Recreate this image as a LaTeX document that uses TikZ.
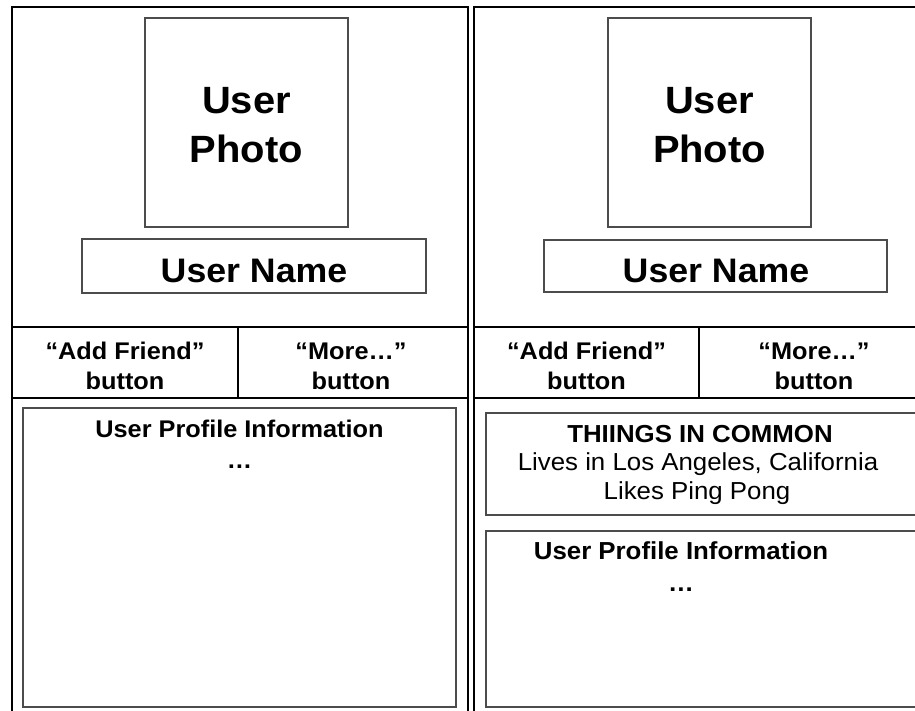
\documentclass[tikz,border=0pt]{standalone}
\usepackage{fontspec}
\setmainfont{Liberation Sans}[FakeStretch=1.05]
\tikzset{
  panelline/.style={draw=black, line width=1.3pt},
  innerbox/.style={draw=black!70, line width=1.6pt},
  txtbase/.style={anchor=base, inner sep=0pt},
  bigtxt/.style={txtbase, font=\bfseries\fontsize{38}{42}\selectfont},
  nametxt/.style={txtbase, font=\bfseries\fontsize{34}{38}\selectfont},
  btntxt/.style={txtbase, font=\bfseries\fontsize{24.1}{27}\selectfont},
  headtxt/.style={txtbase, font=\bfseries\fontsize{24.6}{27}\selectfont},
  plaintxt/.style={txtbase, font=\fontsize{24.6}{27}\selectfont}}
\begin{document}
\begin{tikzpicture}[x=1pt,y=-1pt]
\useasboundingbox (0,0) rectangle (915,711);
\clip (0,0) rectangle (915,711);
\fill[white] (0,0) rectangle (915,711);

% ---------- left panel ----------
\draw[panelline] (12,730) -- (12,7) -- (468,7) -- (468,730);
\draw[panelline] (12,327) -- (468,327);
\draw[panelline] (12,398) -- (468,398);
\draw[panelline] (238,327) -- (238,398);
\draw[innerbox] (145,18) rectangle (348,227);
\draw[innerbox] (82,239) rectangle (426,293);
\draw[innerbox] (23,408) rectangle (456,707);

\node[bigtxt] (lu) at (246.5,114) {User};
\node[bigtxt] (lp) at (246.5,163) {Photo};
\node[nametxt] (ln) at (254,283) {User Name};
\node[btntxt] (la1) at (125,359) {“Add Friend”};
\node[btntxt] (la2) at (125,389) {button};
\node[btntxt] (lm1) at (351,359) {“More…”};
\node[btntxt] (lm2) at (351,389) {button};
\node[btntxt] (li1) at (239.5,437.5) {User Profile Information};
\node[btntxt] (li2) at (239.5,468) {…};

% ---------- right panel ----------
\draw[panelline] (474,730) -- (474,7) -- (930,7);
\draw[panelline] (474,327) -- (930,327);
\draw[panelline] (474,398) -- (930,398);
\draw[panelline] (699,327) -- (699,398);
\draw[innerbox] (608,18) rectangle (811,227);
\draw[innerbox] (544,240) rectangle (887,292);
\draw[innerbox] (486,413) rectangle (930,515);
\draw[innerbox] (486,531) rectangle (930,707);

\node[bigtxt] (ru) at (709.5,114) {User};
\node[bigtxt] (rp) at (709.5,163) {Photo};
\node[nametxt] (rn) at (716,283) {User Name};
\node[btntxt] (ra1) at (586.5,359) {“Add Friend”};
\node[btntxt] (ra2) at (586.5,389) {button};
\node[btntxt] (rm1) at (814,359) {“More…”};
\node[btntxt] (rm2) at (814,389) {button};
\node[headtxt] (rt1) at (700,442) {THIINGS IN COMMON};
\node[plaintxt] (rt2) at (698,470.5) {Lives in Los Angeles, California};
\node[plaintxt] (rt3) at (697,499) {Likes Ping Pong};
\node[headtxt] (ri1) at (681,559) {User Profile Information};
\node[headtxt] (ri2) at (681,591) {…};
\end{tikzpicture}
\end{document}
